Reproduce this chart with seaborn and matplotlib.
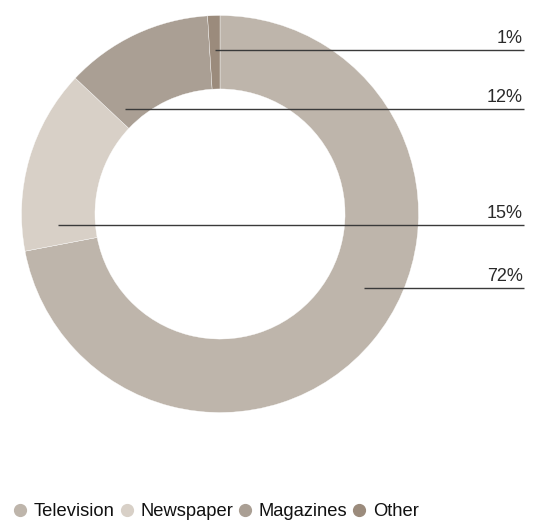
import matplotlib
matplotlib.use("Agg")
import matplotlib.pyplot as plt
from matplotlib.lines import Line2D
import seaborn as sns

# Share of advertising by medium
categories = ["Television", "Newspaper", "Magazines", "Other"]
shares = [72, 15, 12, 1]
labels = ["72%", "15%", "12%", "1%"]

sns.set_theme(style="white")
plt.rcParams["font.family"] = ["Liberation Sans", "DejaVu Sans"]

colors = ["#beb5ab", "#d8d0c7", "#aa9f94", "#9b8b7c"]

# leader-line anchor points inside each ring segment (ring radius = 1)
anchors = [(0.725, -0.371), (-0.816, -0.054), (-0.481, 0.530), (-0.025, 0.826)]
line_end_x = 1.5315

fig = plt.figure(figsize=(5.36, 5.21), dpi=100)
ax = fig.add_axes([0, 0, 1, 1])

ax.pie(
    shares,
    colors=colors,
    startangle=90,
    counterclock=False,
    radius=1.0,
    wedgeprops=dict(width=0.37, edgecolor="white", linewidth=0.25),
)

for (ax_x, ax_y), lab in zip(anchors, labels):
    ax.plot([ax_x, line_end_x], [ax_y, ax_y], color="#3a3a3a", lw=1.0,
            solid_capstyle="butt", zorder=3)
    ax.text(line_end_x - 0.005, ax_y + 0.014, lab, ha="right", va="bottom",
            fontsize=13, color="#2a2a2a")

ax.set_xlim(-1.1083, 1.5919)
ax.set_ylim(-1.5466, 1.0781)
ax.set_aspect("equal")
ax.axis("off")

handles = [Line2D([0], [0], marker="o", linestyle="none", markersize=8.5,
                  markerfacecolor=c, markeredgecolor=c) for c in colors]
fig.legend(handles, categories, loc="lower left", bbox_to_anchor=(0.005, -0.02),
           ncol=4, frameon=False, fontsize=13.2, handlelength=0.7,
           handletextpad=0.4, columnspacing=0.3, borderaxespad=0.2,
           labelcolor="#111111")

fig.savefig("out.png", dpi=100, facecolor="white")
